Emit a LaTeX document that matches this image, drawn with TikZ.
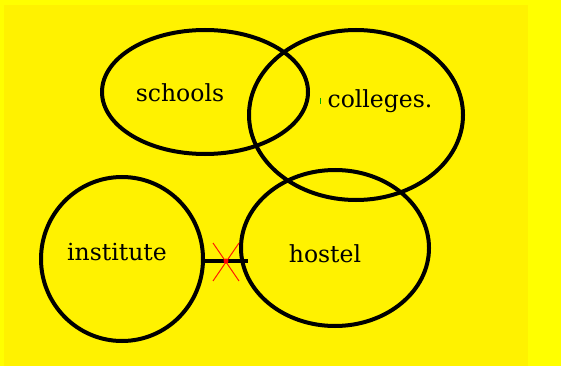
\documentclass[tikz,border=0pt]{standalone}
\usepackage{fontspec}
\setmainfont{DejaVu Serif}
\usetikzlibrary{shapes.geometric,calc}
\begin{document}
\begin{tikzpicture}[x=1pt,y=-1pt,
  ring/.style={draw=black,line width=4pt,ellipse,inner sep=0pt},
  lbl/.style={font=\fontsize{23.5}{28}\selectfont,inner sep=0pt}]
\definecolor{outery}{HTML}{FFFF00}
\definecolor{innery}{HTML}{FFF200}
\fill[outery] (0,0) rectangle (561,366);
\fill[innery] (4,5) rectangle (528,366);
\useasboundingbox (0,0) rectangle (561,366);
\node[ring,minimum width=206pt,minimum height=124pt] (schE) at (205,92) {};
\node[ring,minimum width=214pt,minimum height=170pt] (colE) at (356,115) {};
\node[ring,minimum width=162pt,minimum height=164pt] (insE) at (122,259) {};
\node[ring,minimum width=188pt,minimum height=156pt] (hosE) at (335,248) {};
\node[lbl] (sch) at (180,93) {schools};
\node[lbl] (col) at (380,101) {colleges.};
\node[lbl] (ins) at (117,252) {institute};
\node[lbl] (hos) at (325,254) {hostel};
\coordinate (gm1) at (320,98);
\coordinate (gm2) at (320,104);
\draw[green!70!black,line width=1pt] (gm1) -- (gm2);
\coordinate (la) at (203,261);
\coordinate (lb) at (248,261);
\draw[line width=4pt] (la) -- (lb);
\coordinate (xc) at (226,261);
\draw[red!80!orange,line width=1pt] ($(xc)+(-13,-18)$) -- ($(xc)+(13,20)$);
\draw[red!80!orange,line width=1pt] ($(xc)+(13,-18)$) -- ($(xc)+(-13,20)$);
\fill[red] (xc) circle (2.5pt);
\end{tikzpicture}
\end{document}
